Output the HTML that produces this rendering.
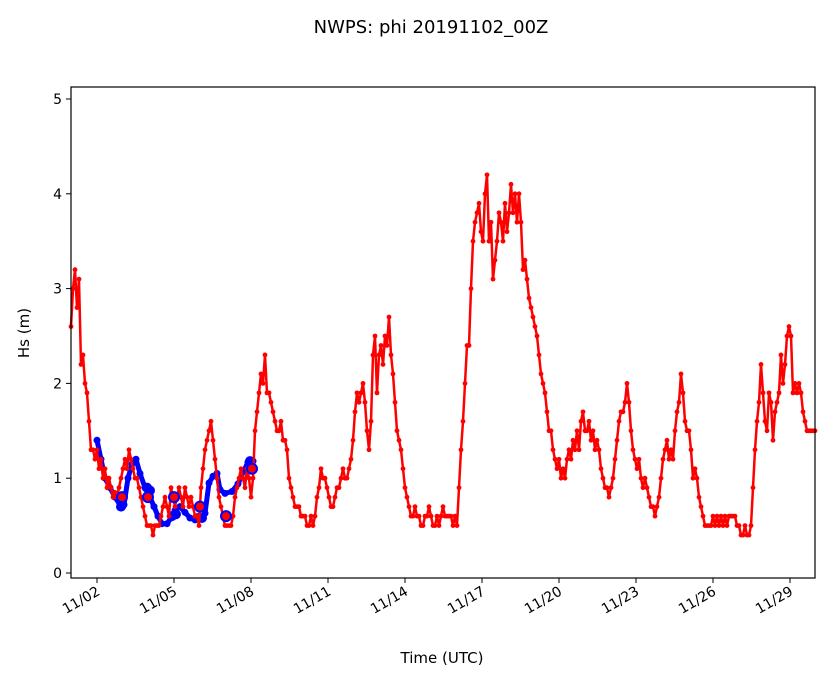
<!DOCTYPE html><html><head><style>body{margin:0;background:#fff}svg{font-family:"DejaVu Sans","Liberation Sans",sans-serif}</style></head><body>
<svg id="s" width="833" height="681" xmlns="http://www.w3.org/2000/svg">
<rect width="833" height="681" fill="#fff"/>
<text x="431" y="33" font-size="18" text-anchor="middle">NWPS: phi 20191102_00Z</text>
<g id="data"></g>
<rect x="71" y="87" width="744" height="491" fill="none" stroke="#000" stroke-width="1.2"/>
<g font-size="14" text-anchor="end" id="yt"></g>
<g font-size="14" id="xt"></g>
<text x="442" y="663" font-size="15" text-anchor="middle">Time (UTC)</text>
<text transform="translate(29,333) rotate(-90)" font-size="15" text-anchor="middle">Hs (m)</text>
</svg>
<script>
var Y=v=>573-v*94.8,ns="http://www.w3.org/2000/svg";
function el(t,a,p){var e=document.createElementNS(ns,t);for(var k in a)e.setAttribute(k,a[k]);(p||document.getElementById('data')).appendChild(e);return e}
var yt=document.getElementById('yt');
for(var i=0;i<=5;i++){el('line',{x1:66,x2:71,y1:Y(i),y2:Y(i),stroke:'#000'},yt);el('text',{x:62,y:Y(i)+5},yt).textContent=i}
var xt=document.getElementById('xt'),lb=['11/02','11/05','11/08','11/11','11/14','11/17','11/20','11/23','11/26','11/29'];
lb.forEach((l,i)=>{var x=97+i*77;el('line',{x1:x,x2:x,y1:578,y2:583,stroke:'#000'},xt);var t=el('text',{x:x+4,y:594,'text-anchor':'end',transform:'rotate(-30 '+(x+4)+' 594)'},xt);t.textContent=l});
var r=[2.6,3.0,3.2,2.8,3.1,2.2,2.3,2.0,1.9,1.6,1.3,1.3,1.2,1.3,1.1,1.2,1.0,1.1,0.9,1.0,0.9,0.8,0.85,0.8,0.9,1.0,1.1,1.2,1.1,1.3,1.2,1.1,1.0,1.0,0.9,0.8,0.7,0.6,0.5,0.5,0.5,0.4,0.5,0.5,0.5,0.6,0.7,0.8,0.7,0.6,0.9,0.8,0.7,0.8,0.9,0.8,0.7,0.9,0.8,0.7,0.8,0.7,0.6,0.6,0.5,0.9,1.1,1.3,1.4,1.5,1.6,1.4,1.2,1.0,0.8,0.7,0.6,0.5,0.5,0.5,0.5,0.6,0.8,0.9,1.0,1.1,1.0,0.9,1.1,1.0,0.8,1.0,1.5,1.7,1.9,2.1,2.0,2.3,1.9,1.9,1.8,1.7,1.6,1.5,1.5,1.6,1.4,1.4,1.3,1.0,0.9,0.8,0.7,0.7,0.7,0.6,0.6,0.6,0.5,0.5,0.6,0.5,0.6,0.8,0.9,1.1,1.0,1.0,0.9,0.8,0.7,0.7,0.8,0.9,0.9,1.0,1.1,1.0,1.0,1.1,1.2,1.4,1.7,1.9,1.8,1.9,2.0,1.8,1.5,1.3,1.6,2.3,2.5,1.9,2.3,2.4,2.2,2.5,2.4,2.7,2.3,2.1,1.8,1.5,1.4,1.3,1.1,0.9,0.8,0.7,0.6,0.6,0.7,0.6,0.6,0.5,0.5,0.6,0.6,0.7,0.6,0.5,0.5,0.6,0.5,0.6,0.7,0.6,0.6,0.6,0.6,0.5,0.6,0.5,0.9,1.3,1.6,2.0,2.4,2.4,3.0,3.5,3.7,3.8,3.9,3.6,3.5,4.0,4.2,3.5,3.7,3.1,3.3,3.5,3.8,3.7,3.5,3.9,3.6,3.8,4.1,3.8,4.0,3.7,4.0,3.7,3.2,3.3,3.1,2.9,2.8,2.7,2.6,2.5,2.3,2.1,2.0,1.9,1.7,1.5,1.5,1.3,1.2,1.1,1.2,1.0,1.1,1.0,1.2,1.3,1.2,1.4,1.3,1.5,1.3,1.6,1.7,1.5,1.5,1.6,1.4,1.5,1.3,1.4,1.3,1.1,1.0,0.9,0.9,0.8,0.9,1.0,1.2,1.4,1.6,1.7,1.7,1.8,2.0,1.8,1.5,1.3,1.2,1.1,1.2,1.0,0.9,1.0,0.9,0.8,0.7,0.7,0.6,0.7,0.8,1.0,1.2,1.3,1.4,1.2,1.3,1.2,1.5,1.7,1.8,2.1,1.9,1.6,1.5,1.5,1.3,1.0,1.1,1.0,0.8,0.7,0.6,0.5,0.5,0.5,0.5,0.6,0.5,0.6,0.5,0.6,0.5,0.6,0.5,0.6,0.6,0.6,0.6,0.5,0.5,0.4,0.4,0.5,0.4,0.4,0.5,0.9,1.3,1.6,1.8,2.2,1.9,1.6,1.5,1.9,1.8,1.4,1.7,1.8,1.9,2.3,2.0,2.2,2.5,2.6,2.5,1.9,2.0,1.9,2.0,1.9,1.7,1.6,1.5,1.5,1.5,1.5,1.5];
var b=[[97,1.4],[101,1.2],[105,1.0],[110,0.9],[115,0.8],[120,0.72],[124,0.72],[128,1.0],[132,1.15],[136,1.2],[140,1.05],[145,0.9],[150,0.8],[154,0.7],[158,0.6],[162,0.52],[167,0.52],[171,0.58],[175,0.66],[180,0.7],[185,0.64],[190,0.58],[195,0.56],[200,0.57],[205,0.63],[209,0.95],[213,1.02],[217,1.05],[220,0.88],[225,0.84],[232,0.86],[238,0.94],[244,1.08],[248,1.17],[253,1.18]];
var bp=b.map(p=>p[0]+','+Y(p[1])).join(' ');
el('polyline',{points:bp,fill:'none',stroke:'#0000ff','stroke-width':5,'stroke-linejoin':'round'});
b.forEach(p=>el('circle',{cx:p[0],cy:Y(p[1]),r:3.5,fill:'#0000ff'}));
[[121,0.7],[122,0.72],[147,0.9],[150,0.87],[172,0.6],[176,0.62],[198,0.58],[202,0.58],[250,1.18]].forEach(p=>el('circle',{cx:p[0],cy:Y(p[1]),r:5,fill:'#0000ff'}));
var rp=r.map((v,i)=>(71+i*2)+','+Y(v)).join(' ');
el('polyline',{points:rp,fill:'none',stroke:'#ff0000','stroke-width':2.5,'stroke-linejoin':'round'});
r.forEach((v,i)=>el('circle',{cx:71+i*2,cy:Y(v),r:2.4,fill:'#ff0000'}));
[[122,0.8],[148,0.8],[174,0.8],[200,0.7],[226,0.6],[252,1.1]].forEach(p=>el('circle',{cx:p[0],cy:Y(p[1]),r:5,fill:'#ff0000',stroke:'#0000ff','stroke-width':2}));
</script>
</body></html>
